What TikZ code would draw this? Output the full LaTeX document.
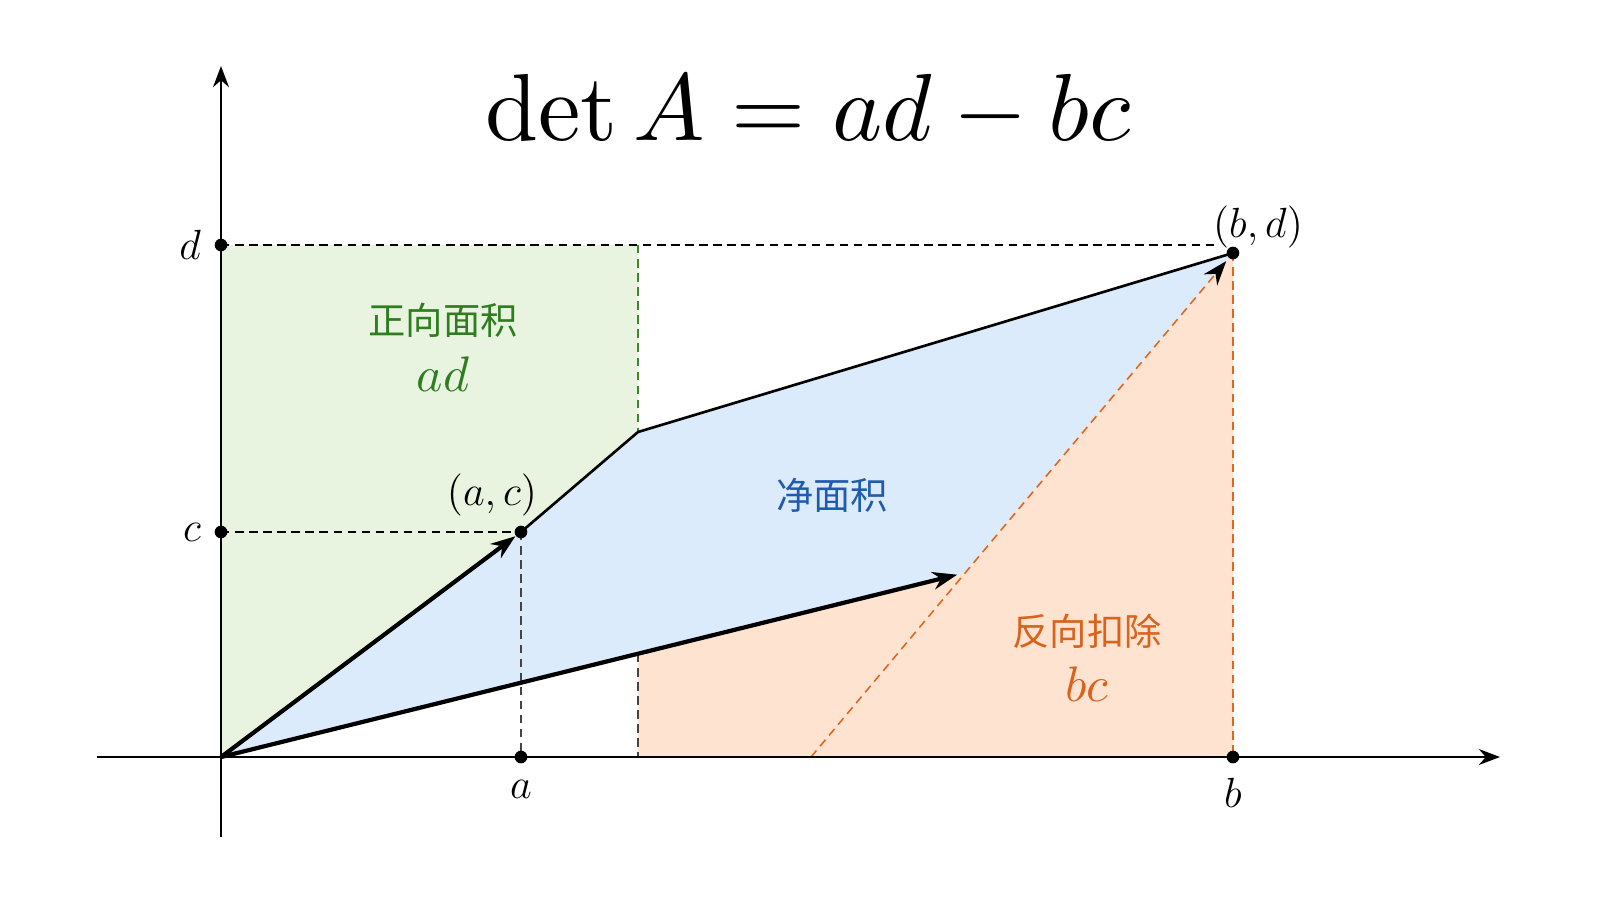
\documentclass[tikz,border=0pt]{standalone}
\usepackage{amsmath}
\usepackage{fontspec}
\newfontfamily\cjk{Noto Sans CJK SC}
\usetikzlibrary{arrows.meta}
\definecolor{gfill}{HTML}{E8F3E0}
\definecolor{bfill}{HTML}{DCEBFB}
\definecolor{ofill}{HTML}{FDE3D0}
\definecolor{gtext}{HTML}{2E7D1F}
\definecolor{btext}{HTML}{1F5BAE}
\definecolor{otext}{HTML}{D9621C}
\definecolor{gdash}{HTML}{3A8A2A}
\definecolor{odash}{HTML}{E2661E}
\definecolor{kdash}{HTML}{444444}
\tikzset{
  axisline/.style={line width=0.75pt,-{Stealth[length=6pt,width=4.5pt]}},
  vecline/.style={line width=1.2pt,-{Stealth[length=7pt,width=5pt]},shorten >=2pt},
  edgeline/.style={line width=0.75pt},
  dashline/.style={line width=0.45pt,dash pattern=on 2.4pt off 1.6pt},
  dotnode/.style={circle,fill=black,inner sep=0pt,minimum size=3.6pt},
  lab/.style={font=\fontsize{13}{15}\selectfont},
  cjklab/.style={font=\cjk\fontsize{10.6}{13}\selectfont},
  mathlab/.style={font=\fontsize{10}{12}\selectfont,scale=1.42,transform shape}
}
\begin{document}
\begin{tikzpicture}[x=0.01cm,y=-0.01cm]
\useasboundingbox (0,0) rectangle (1600,900);
\fill[white] (0,0) rectangle (1600,900);
% key points
\coordinate (O) at (221,757);
\coordinate (AC) at (521,532);
\coordinate (K) at (638,432);
\coordinate (BD) at (1233,253);
\coordinate (V) at (964,573);
\coordinate (Dy) at (221,245);
\coordinate (Cy) at (221,532);
\coordinate (Ax) at (521,757);
\coordinate (Bx) at (1233,757);
\coordinate (Q) at (811,757);
\coordinate (Kd) at (638,245);
\coordinate (Kl) at (638,654);
\coordinate (Kb) at (638,757);
\coordinate (De) at (1215,245);
\coordinate (xl) at (97,757);
\coordinate (xr) at (1500,757);
\coordinate (yb) at (221,837);
\coordinate (yt) at (221,66);
% fills
\fill[gfill] (O) -- (AC) -- (K) -- (Kd) -- (Dy) -- cycle;
\fill[bfill] (O) -- (AC) -- (K) -- (BD) -- (V) -- cycle;
\fill[ofill] (Kl) -- (V) -- (BD) -- (Bx) -- (Kb) -- cycle;
% dashed guides
\draw[dashline,black] (Dy) -- (De);
\draw[dashline,gdash] (Kd) -- (K);
\draw[dashline,kdash] (Kl) -- (Kb);
\draw[dashline,black] (Cy) -- (AC);
\draw[dashline,kdash] (AC) -- (Ax);
\draw[dashline,odash] (BD) -- (Bx);
\draw[dashline,odash,-{Stealth[length=7pt,width=5pt,color=black]},shorten >=3pt] (Q) -- (BD);
% axes
\draw[axisline] (xl) -- (xr);
\draw[axisline] (yb) -- (yt);
% edges and vectors
\draw[edgeline] (AC) -- (K) -- (BD);
\draw[vecline] (O) -- (AC);
\draw[vecline] (O) -- (V);
% dots
\node[dotnode] (pD) at (Dy) {};
\node[dotnode] (pC) at (Cy) {};
\node[dotnode] (pAC) at (AC) {};
\node[dotnode] (pA) at (Ax) {};
\node[dotnode] (pB) at (Bx) {};
\node[dotnode] (pBD) at (BD) {};
% labels
\node[lab] (ld) at (190,245) {$d$};
\node[lab] (lc) at (192,532) {$c$};
\node[lab] (la) at (521,789) {$a$};
\node[lab] (lb) at (1233,793) {$b$};
\node[lab] (lac) at (492,495) {$(a,c)$};
\node[lab] (lbd) at (1258,227) {$(b,d)$};
\node[cjklab,text=gtext] (tpos) at (443,320) {正向面积};
\node[mathlab,text=gtext] (tad) at (443,374) {$ad$};
\node[cjklab,text=btext] (tnet) at (832,495) {净面积};
\node[cjklab,text=otext] (tneg) at (1087,631) {反向扣除};
\node[mathlab,text=otext] (tbc) at (1087,684) {$bc$};
\node[font=\fontsize{10}{12}\selectfont,scale=2.71,transform shape] (title) at (808,111) {$\det A = ad - bc$};
\end{tikzpicture}
\end{document}
